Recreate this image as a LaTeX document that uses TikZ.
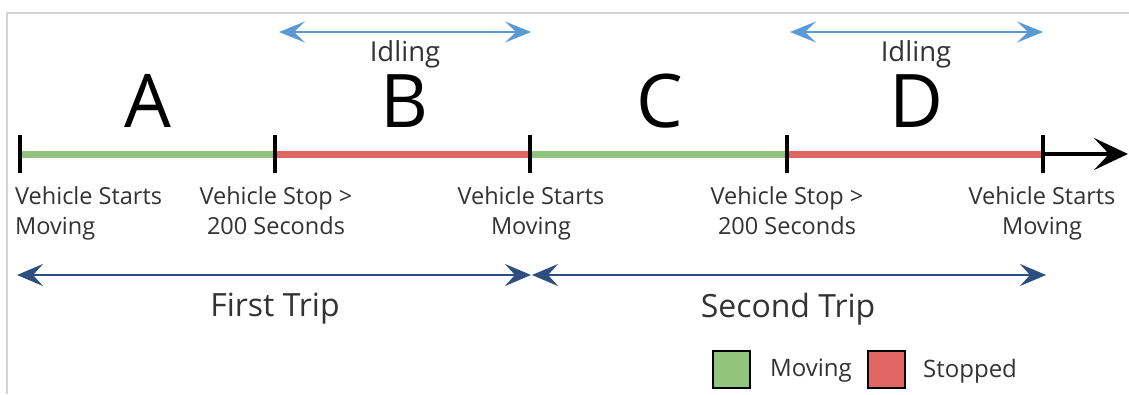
\documentclass[tikz,border=0pt]{standalone}
\usepackage{fontspec}
\setmainfont{Open Sans}
\usetikzlibrary{arrows.meta}
\definecolor{movgreen}{HTML}{93C47D}
\definecolor{stopred}{HTML}{E06666}
\definecolor{idleblue}{HTML}{5B9BD5}
\definecolor{tripblue}{HTML}{2D4F80}
\definecolor{txt}{HTML}{333333}
\definecolor{frame}{HTML}{D4D4D4}
\tikzset{
  seg/.style={line width=7pt},
  tick/.style={line width=4pt, black},
  lbl/.style={font=\fontsize{23.5}{30}\selectfont, text=txt, align=center, inner sep=0pt},
  big/.style={font=\fontsize{74}{74}\selectfont, text=black, inner sep=0pt},
  idle/.style={font=\fontsize{27.5}{30}\selectfont, text=txt, inner sep=0pt},
  idlearrow/.style={idleblue, line width=2.5pt, {Stealth[length=26pt,width=21pt,inset=11pt]}-{Stealth[length=26pt,width=21pt,inset=11pt]}},
  triparrow/.style={tripblue, line width=2.5pt, {Stealth[length=26pt,width=22pt,inset=10pt]}-{Stealth[length=26pt,width=22pt,inset=10pt]}},
  trip/.style={font=\fontsize{32}{36}\selectfont, text=txt, inner sep=0pt},
  legbox/.style={draw=black, line width=2pt, minimum width=37pt, minimum height=37pt, inner sep=0pt},
  legtxt/.style={font=\fontsize{24}{28}\selectfont, text=txt, inner sep=0pt, anchor=west}
}
\begin{document}
\begin{tikzpicture}[x=1pt,y=-1pt]
\useasboundingbox (0,0) rectangle (1129,394);
\fill[white] (0,0) rectangle (1129,394);
% frame
\draw[frame, line width=2pt] (7,394) -- (7,13) -- (1129,13);
% timeline points
\coordinate (t0) at (20,154);
\coordinate (t1) at (275,154);
\coordinate (t2) at (530,154);
\coordinate (t3) at (787,154);
\coordinate (t4) at (1043,154);
\coordinate (tend) at (1128,154);
\draw[seg, movgreen] (t0) -- (t1);
\draw[seg, stopred] (t1) -- (t2);
\draw[seg, movgreen] (t2) -- (t3);
\draw[seg, stopred] (t3) -- (t4);
\draw[black, line width=3.5pt, -{Stealth[length=34pt,width=32pt,inset=15pt]}] (t4) -- (tend);
\foreach \t in {t0,t1,t2,t3,t4} {
  \draw[tick] ([yshift=-19pt]\t) -- ([yshift=19pt]\t);
}
% letters
\node[big] (A) at (148,101) {A};
\node[big] (B) at (404,101) {B};
\node[big] (C) at (660,101) {C};
\node[big] (D) at (916,101) {D};
% idling
\coordinate (i1a) at (279,32);
\coordinate (i1b) at (531,32);
\coordinate (i2a) at (790,32);
\coordinate (i2b) at (1043,32);
\draw[idlearrow] (i1a) -- (i1b);
\draw[idlearrow] (i2a) -- (i2b);
\node[idle] (id1) at (405,54) {Idling};
\node[idle] (id2) at (916,54) {Idling};
% labels
\node[lbl, align=left, anchor=north west] (l0) at (15,186) {Vehicle Starts\\Moving};
\node[lbl, anchor=north] (l1) at (276,186) {Vehicle Stop >\\200 Seconds};
\node[lbl, anchor=north] (l2) at (531,186) {Vehicle Starts\\Moving};
\node[lbl, anchor=north] (l3) at (787,186) {Vehicle Stop >\\200 Seconds};
\node[lbl, anchor=north] (l4) at (1042,186) {Vehicle Starts\\Moving};
% trips
\coordinate (p0) at (17,275);
\coordinate (p1) at (531,275);
\coordinate (p2) at (532,275);
\coordinate (p3) at (1046,275);
\draw[triparrow] (p0) -- (p1);
\draw[triparrow] (p2) -- (p3);
\node[trip] (ft) at (275,309) {First Trip};
\node[trip] (st) at (788,309) {Second Trip};
% legend
\node[legbox, fill=movgreen] (g) at (731,369) {};
\node[legtxt] (gm) at (770,371) {Moving};
\node[legbox, fill=stopred] (r) at (886,369) {};
\node[legtxt] (rs) at (923,371) {Stopped};
\end{tikzpicture}
\end{document}
